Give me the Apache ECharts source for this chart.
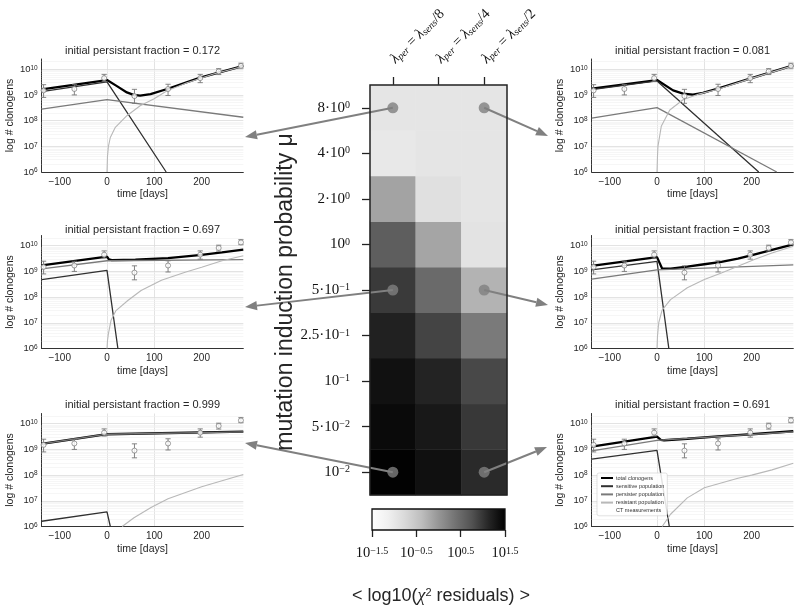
<!DOCTYPE html>
<html>
<head>
<meta charset="utf-8">
<script src="https://cdn.jsdelivr.net/npm/echarts@6.0.0/dist/echarts.min.js"></script>
<style>html,body{margin:0;padding:0;background:#fff;} #chart{width:800px;height:615px;}</style>
</head>
<body>
<div id="chart"></div>
<script>
// ================= DATA =================
const heatColumns = ['1/8', '1/4', '1/2'];
const heatColumnLabels = [
  '{i|λ}{sb|per}{r| = }{i|λ}{sb|sens}{r|/8}',
  '{i|λ}{sb|per}{r| = }{i|λ}{sb|sens}{r|/4}',
  '{i|λ}{sb|per}{r| = }{i|λ}{sb|sens}{r|/2}'
];
// rows listed bottom -> top
const heatRows = ['1e-2', '5e-2', '1e-1', '2.5e-1', '5e-1', '1e0', '2e0', '4e0', '8e0'];
const heatRowLabels = ['{n|10}{sp|−2}', '{n|5·10}{sp|−2}', '{n|10}{sp|−1}', '{n|2.5·10}{sp|−1}',
  '{n|5·10}{sp|−1}', '{n|10}{sp|0}', '{n|2·10}{sp|0}', '{n|4·10}{sp|0}', '{n|8·10}{sp|0}'];
// log10 of chi^2 residuals, one row per heatRows entry, columns = heatColumns
const chiRow_1e_2   = [1.48, 1.34, 1.08];
const chiRow_5e_2   = [1.40, 1.26, 0.97];
const chiRow_1e_1   = [1.33, 1.15, 0.83];
const chiRow_2p5e_1 = [1.17, 0.87, 0.30];
const chiRow_5e_1   = [0.95, 0.48, -0.28];
const chiRow_1e0    = [0.61, -0.14, -0.91];
const chiRow_2e0    = [-0.125, -0.87, -0.945];
const chiRow_4e0    = [-1.0, -0.945, -0.945];
const chiRow_8e0    = [-0.945, -0.945, -0.945];
const heatValues = [chiRow_1e_2, chiRow_5e_2, chiRow_1e_1, chiRow_2p5e_1, chiRow_5e_1, chiRow_1e0, chiRow_2e0, chiRow_4e0, chiRow_8e0];

const colorbarTicks = [-1.5, -0.5, 0.5, 1.5];
const colorbarTickLabels = ['{n|10}{sp|−1.5}', '{n|10}{sp|−0.5}', '{n|10}{sp|0.5}', '{n|10}{sp|1.5}'];
const greys = ['#ffffff', '#f0f0f0', '#d9d9d9', '#bdbdbd', '#969696', '#737373', '#525252', '#252525', '#000000'];

// highlighted cells (column index, row name) in subplot order
const markedCells = [[0, '8e0'], [2, '8e0'], [0, '5e-1'], [2, '5e-1'], [0, '1e-2'], [2, '1e-2']];
const fractions = ['0.172', '0.081', '0.697', '0.303', '0.999', '0.691'];

// CT measurements
const ctTimes  = [-134, -69, -6, 58, 129, 197, 236, 283];
const ctValues = [1.5e9, 1.7e9, 4.5e9, 0.9e9, 1.7e9, 4.5e9, 8.2e9, 1.35e10];
const ctLow    = [0.8e9, 1.0e9, 3.3e9, 0.47e9, 0.95e9, 3.0e9, 6.2e9, 1.1e10];
const ctHigh   = [2.5e9, 2.5e9, 6.3e9, 1.65e9, 2.6e9, 6.3e9, 1.05e10, 1.72e10];

const xTicks = [-100, 0, 100, 200];

// model curves, [time, clonogens]
const f172_total = [[-138,1.65e9],[0,3.8e9],[21,2.2e9],[42,1.25e9],[56,1.0e9],[70,0.93e9],[92,1.07e9],[127,1.7e9],[197,4.7e9],[288,1.35e10]];
const f172_sens  = [[-138,1.35e9],[0,3.2e9],[125,1e6]];
const f172_pers  = [[-138,2.8e8],[0,6.5e8],[288,1.35e8]];
const f172_res   = [[0,1e6],[1,4e6],[3,1e7],[7,2.2e7],[17.6,5.5e7],[42,1.55e8],[70,3.8e8],[98.6,6.9e8],[127,1.45e9],[169,3.0e9],[225,6.5e9],[288,1.3e10]];

const f081_total = [[-138,1.75e9],[0,3.8e9],[34,1.5e9],[55,1.12e9],[76,1.02e9],[97,1.2e9],[125,1.7e9],[200,4.5e9],[288,1.4e10]];
const f081_sens  = [[-138,1.6e9],[0,3.5e9],[215,1e6]];
const f081_pers  = [[-138,1.25e8],[0,3.2e8],[253,1e6]];
const f081_res   = [[0,1e6],[1,4e6],[2,1e7],[9,6e7],[27,2.6e8],[55,6.5e8],[90,1.1e9],[125,1.6e9],[200,4.4e9],[288,1.38e10]];

const f697_total = [[-138,1.72e9],[0,3.8e9],[4,2.95e9],[10,2.75e9],[60,2.85e9],[129,3.3e9],[200,4.4e9],[243,5.5e9],[288,7.0e9]];
const f697_sens  = [[-138,4.8e8],[0,1.1e9],[23,1e6]];
const f697_pers  = [[-138,1.25e9],[0,2.6e9],[288,2.9e9]];
const f697_res   = [[0,1e6],[1,2e6],[3,3.8e6],[8.5,1.25e7],[19,3e7],[44,7.4e7],[72,1.8e8],[115,4.5e8],[165,9.3e8],[200,1.45e9],[243,2.6e9],[288,4.1e9]];

const f303_total = [[-138,1.65e9],[0,3.6e9],[11,1.28e9],[29,1.28e9],[64,1.53e9],[100,1.9e9],[136,2.35e9],[171,3.15e9],[207,4.65e9],[243,6.9e9],[288,1.13e10]];
const f303_sens  = [[-138,1.15e9],[0,2.45e9],[25,1e6]];
const f303_pers  = [[-138,5e8],[0,1.15e9],[288,1.8e9]];
const f303_res   = [[0,1e6],[1,3e6],[3.6,1e7],[10.7,3.1e7],[28.6,8e7],[64,2.3e8],[100,4.8e8],[136,8.7e8],[171,1.6e9],[207,3.0e9],[243,5.2e9],[288,9.5e9]];

const f999_total = [[-138,1.65e9],[0,3.9e9],[288,4.9e9]];
const f999_sens  = [[-138,1.6e6],[0,3.7e6],[7,1e6]];
const f999_pers  = [[-138,1.63e9],[0,3.9e9],[288,4.8e9]];
const f999_res   = [[32,1e6],[57,2.2e6],[93,5.5e6],[129,1.2e7],[200,3.5e7],[288,1.05e8]];

const f691_total = [[-138,1.29e9],[0,3.15e9],[8,2.35e9],[15,2.27e9],[64,2.6e9],[129,3.24e9],[200,3.9e9],[288,5.1e9]];
const f691_sens  = [[-138,4.2e8],[0,9.1e8],[26,1e6]];
const f691_pers  = [[-138,8.7e8],[0,2.24e9],[288,4.8e9]];
const f691_res   = [[11,1e6],[28.6,3e6],[64,1.3e7],[100,3.2e7],[171,7.6e7],[200,1e8],[243,1.6e8],[288,2.9e8]];

const curves = [
  [f172_total, f172_sens, f172_pers, f172_res],
  [f081_total, f081_sens, f081_pers, f081_res],
  [f697_total, f697_sens, f697_pers, f697_res],
  [f303_total, f303_sens, f303_pers, f303_res],
  [f999_total, f999_sens, f999_pers, f999_res],
  [f691_total, f691_sens, f691_pers, f691_res]
];
const curveNames = ['total clonogens', 'sensitive population', 'persister population', 'resistant population'];

// ================= LAYOUT / STYLE =================
const SANS = "'Liberation Sans', Arial, Helvetica, sans-serif";
const SERIF = "'Liberation Serif', 'Times New Roman', serif";
const TXT = '#262626';
const gridLefts = [41.7, 591.7];
const gridTops = [59, 235.5, 413.5];
const GW = 201.6, GH = 113;
const HM = {left: 370, top: 85, width: 137, height: 410};
const CB = {left: 372, top: 509, width: 133, height: 21};
const curveStyles = [
  {color: '#000000', width: 2.3},
  {color: '#303030', width: 1.3},
  {color: '#7a7a7a', width: 1.3},
  {color: '#b8b8b8', width: 1.1}
];
const minorVals = [];
for (let e = 6; e <= 10; e++) for (let m = 2; m <= 9; m++) minorVals.push(m * Math.pow(10, e));

const grids = [], xAxes = [], yAxes = [], series = [];
for (let i = 0; i < 6; i++) {
  const col = i % 2, row = Math.floor(i / 2);
  grids.push({left: gridLefts[col], top: gridTops[row], width: GW, height: GH, containLabel: false});
  xAxes.push({
    gridIndex: i, type: 'value', min: -138, max: 288,
    axisLine: {show: true, onZero: false, lineStyle: {color: '#333', width: 1}},
    axisTick: {show: false, customValues: xTicks},
    axisLabel: {customValues: xTicks, fontSize: 10, color: TXT, fontFamily: SANS, margin: 5,
      formatter: v => (v < 0 ? '\u2212' + (-v) : '' + v)},
    splitLine: {show: true, showMinLine: false, showMaxLine: false, lineStyle: {color: '#dcdcdc', width: 0.8}},
    name: 'time [days]', nameLocation: 'middle', nameGap: 17,
    nameTextStyle: {fontSize: 10.5, color: TXT, fontFamily: SANS}
  });
  yAxes.push({
    gridIndex: i, type: 'log', logBase: 10, min: 1e6, max: 2.5e10,
    axisLine: {show: true, onZero: false, lineStyle: {color: '#333', width: 1}},
    axisTick: {show: false},
    axisLabel: {fontSize: 9.5, color: TXT, margin: 4, showMaxLabel: false,
      formatter: v => {
        const e = Math.log10(v);
        if (Math.abs(e - Math.round(e)) > 1e-6) return '';
        return '{b|10}{p|' + Math.round(e) + '}';
      },
      rich: {b: {fontSize: 9.5, fontFamily: SANS, color: TXT}, p: {fontSize: 6.5, fontFamily: SANS, color: TXT, verticalAlign: 'top', lineHeight: 8}}
    },
    splitLine: {show: true, showMaxLine: false, lineStyle: {color: '#dcdcdc', width: 0.8}},
    name: 'log # clonogens', nameLocation: 'middle', nameGap: 24,
    nameTextStyle: {fontSize: 10.5, color: TXT, fontFamily: SANS}
  });
  curves[i].forEach((data, k) => {
    const s = {
      type: 'line', name: curveNames[k], xAxisIndex: i, yAxisIndex: i,
      data: data, showSymbol: false, symbol: 'none', smooth: false, clip: true,
      lineStyle: {color: curveStyles[k].color, width: curveStyles[k].width},
      itemStyle: {color: curveStyles[k].color},
      emphasis: {disabled: true}, z: 3
    };
    if (k === 0) {
      s.markLine = {
        silent: true, symbol: ['none', 'none'], z: 1, animation: false,
        label: {show: false},
        lineStyle: {color: '#f0f0f0', width: 0.6, type: 'solid'},
        emphasis: {disabled: true},
        data: minorVals.map(v => ({yAxis: v}))
      };
    }
    series.push(s);
  });
  series.push({
    type: 'scatter', name: 'CT measurements', xAxisIndex: i, yAxisIndex: i,
    data: ctTimes.map((t, k) => [t, ctValues[k]]),
    symbol: 'circle', symbolSize: 5,
    itemStyle: {color: '#ffffff', borderColor: '#777777', borderWidth: 0.9},
    emphasis: {disabled: true}, z: 6
  });
  series.push({
    type: 'custom', name: 'CT measurements', xAxisIndex: i, yAxisIndex: i,
    data: ctTimes.map((t, k) => [t, ctLow[k], ctHigh[k]]),
    encode: {x: 0, y: [1, 2]}, z: 5,
    renderItem: (params, api) => {
      const x = api.value(0);
      const a = api.coord([x, api.value(1)]);
      const b = api.coord([x, api.value(2)]);
      const w = 2.6;
      const st = {stroke: '#777777', lineWidth: 0.9};
      return {type: 'group', children: [
        {type: 'line', shape: {x1: a[0], y1: a[1], x2: b[0], y2: b[1]}, style: st},
        {type: 'line', shape: {x1: a[0] - w, y1: a[1], x2: a[0] + w, y2: a[1]}, style: st},
        {type: 'line', shape: {x1: b[0] - w, y1: b[1], x2: b[0] + w, y2: b[1]}, style: st}
      ]};
    }
  });
}

// heatmap grid (index 6)
grids.push({left: HM.left, top: HM.top, width: HM.width, height: HM.height, containLabel: false});
xAxes.push({
  gridIndex: 6, type: 'category', data: heatColumns, position: 'top',
  axisLine: {show: false},
  axisTick: {show: true, alignWithLabel: true, length: 8, lineStyle: {color: '#222', width: 1.3}},
  axisLabel: {rotate: -45, margin: 24, formatter: (v, idx) => heatColumnLabels[idx],
    rich: {
      i: {fontSize: 14.5, fontFamily: SERIF, fontStyle: 'italic', color: '#111'},
      r: {fontSize: 14.5, fontFamily: SERIF, color: '#111'},
      sb: {fontSize: 10, fontFamily: SERIF, fontStyle: 'italic', color: '#111', verticalAlign: 'bottom', lineHeight: 10}
    }},
  splitLine: {show: false}
});
yAxes.push({
  gridIndex: 6, type: 'category', data: heatRows,
  axisLine: {show: false},
  axisTick: {show: true, alignWithLabel: true, length: 8, lineStyle: {color: '#222', width: 1.3}},
  axisLabel: {margin: 20, formatter: (v, idx) => heatRowLabels[idx],
    rich: {
      n: {fontSize: 15, fontFamily: SERIF, color: '#111'},
      sp: {fontSize: 10, fontFamily: SERIF, color: '#111', verticalAlign: 'top', lineHeight: 10}
    }},
  splitLine: {show: false}
});
const heatData = [];
heatRows.forEach((r, ri) => heatColumns.forEach((c, ci) => heatData.push([ci, ri, heatValues[ri][ci]])));
const heatSeriesIndex = series.length;
series.push({
  type: 'heatmap', xAxisIndex: 6, yAxisIndex: 6, data: heatData,
  itemStyle: {borderWidth: 0}, emphasis: {disabled: true}, z: 2
});
series.push({
  type: 'scatter', xAxisIndex: 6, yAxisIndex: 6, data: markedCells,
  symbol: 'circle', symbolSize: 11, itemStyle: {color: '#808080'},
  emphasis: {disabled: true}, z: 8
});

// colorbar axis (grid 7)
grids.push({left: CB.left, top: CB.top, width: CB.width, height: CB.height, containLabel: false});
xAxes.push({
  gridIndex: 7, type: 'value', min: -1.5, max: 1.5,
  axisLine: {show: false},
  axisTick: {show: true, customValues: colorbarTicks, length: 7, lineStyle: {color: '#222', width: 1.3}},
  axisLabel: {customValues: colorbarTicks, margin: 16,
    formatter: v => colorbarTickLabels[colorbarTicks.findIndex(t => Math.abs(t - v) < 1e-9)] || '',
    rich: {
      n: {fontSize: 14.5, fontFamily: SERIF, color: '#111'},
      sp: {fontSize: 10, fontFamily: SERIF, color: '#111', verticalAlign: 'top', lineHeight: 9}
    }},
  splitLine: {show: false}
});
yAxes.push({gridIndex: 7, type: 'value', min: 0, max: 1, show: false});

const lineLegendStyle = {opacity: 0};
const chart = echarts.init(document.getElementById('chart'), null, {renderer: 'canvas'});
chart.setOption({
  animation: false,
  backgroundColor: '#ffffff',
  grid: grids, xAxis: xAxes, yAxis: yAxes, series: series,
  visualMap: {type: 'continuous', min: -1.5, max: 1.5, show: false, seriesIndex: heatSeriesIndex,
    inRange: {color: greys}},
  legend: {
    orient: 'vertical', left: 597, top: 473,
    data: [
      {name: 'total clonogens', itemStyle: lineLegendStyle},
      {name: 'sensitive population', itemStyle: lineLegendStyle},
      {name: 'persister population', itemStyle: lineLegendStyle},
      {name: 'resistant population', itemStyle: lineLegendStyle},
      {name: 'CT measurements', icon: 'emptyCircle'}],
    itemWidth: 12, itemHeight: 4, itemGap: 2.2, padding: [2, 3, 2, 3],
    textStyle: {fontSize: 5.5, color: '#333', fontFamily: SANS, padding: [0, 0, 0, -2]},
    backgroundColor: 'rgba(255,255,255,0.85)', borderColor: '#cccccc', borderWidth: 0.6, borderRadius: 2,
    selectedMode: false
  }
});

// ===== annotations (titles, frame, colorbar, arrows) =====
const arrowTips = [[245, 137], [548, 136], [245, 307], [548, 305], [245, 443], [547, 447]];
const titleYs = [51, 230, 405];
const els = [];
for (let i = 0; i < 6; i++) {
  const col = i % 2, row = Math.floor(i / 2);
  els.push({type: 'text', x: gridLefts[col] + GW / 2, y: titleYs[row], z: 10,
    style: {text: 'initial persistant fraction = ' + fractions[i], align: 'center', verticalAlign: 'middle',
      textAlign: 'center', textVerticalAlign: 'middle',
      fontSize: 11, fontFamily: SANS, fill: TXT}});
}
els.push({type: 'rect', z: 6, shape: {x: HM.left, y: HM.top, width: HM.width, height: HM.height},
  style: {fill: 'none', stroke: '#222', lineWidth: 1.5}});
els.push({type: 'rect', z: 6, shape: {x: CB.left, y: CB.top, width: CB.width, height: CB.height},
  style: {fill: new echarts.graphic.LinearGradient(0, 0, 1, 0, greys.map((c, k) => ({offset: k / (greys.length - 1), color: c}))),
    stroke: '#111', lineWidth: 1.3}});
els.push({type: 'text', x: 286, y: 292, rotation: Math.PI / 2, z: 10,
  style: {text: 'mutation induction probability μ', align: 'center', verticalAlign: 'middle',
    textAlign: 'center', textVerticalAlign: 'middle', fontSize: 23, fontFamily: SANS, fill: TXT}});
els.push({type: 'text', x: 441, y: 596, z: 10,
  style: {text: '< log10({g|χ}{s|2} residuals) >', align: 'center', verticalAlign: 'middle',
    textAlign: 'center', textVerticalAlign: 'middle', fontSize: 18, fontFamily: SANS, fill: TXT,
    rich: {g: {fontSize: 18, fontFamily: SERIF, fontStyle: 'italic', fill: TXT},
      s: {fontSize: 11, fontFamily: SANS, fill: TXT, verticalAlign: 'top', lineHeight: 11}}}});
markedCells.forEach((cell, i) => {
  const p = chart.convertToPixel({xAxisIndex: 6, yAxisIndex: 6}, [cell[0], heatRows.indexOf(cell[1])]);
  const tip = arrowTips[i];
  const dx = tip[0] - p[0], dy = tip[1] - p[1];
  const len = Math.sqrt(dx * dx + dy * dy);
  const ux = dx / len, uy = dy / len;
  const L = 12, W = 4.6;
  const bx = tip[0] - ux * L, by = tip[1] - uy * L;
  els.push({type: 'line', z: 4, shape: {x1: p[0], y1: p[1], x2: bx, y2: by},
    style: {stroke: '#808080', lineWidth: 2}});
  els.push({type: 'polygon', z: 4, shape: {points: [[tip[0], tip[1]], [bx - uy * W, by + ux * W], [bx + uy * W, by - ux * W]]},
    style: {fill: '#808080'}});
});
chart.setOption({graphic: {elements: els}});
</script>
</body>
</html>
